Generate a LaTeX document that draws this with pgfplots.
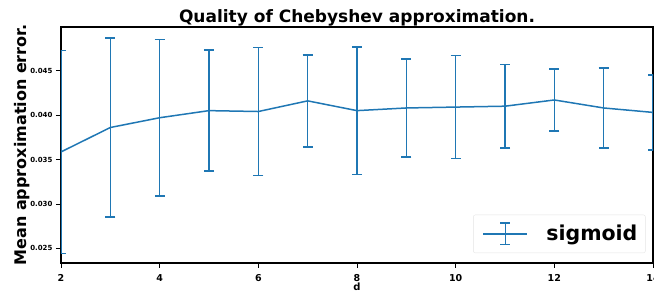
\documentclass[border=0pt]{standalone}
\usepackage{fontspec}
\setmainfont{DejaVu Sans}
\usepackage{pgfplots}
\pgfplotsset{compat=1.18}
\usetikzlibrary{calc}
\definecolor{tabblue}{HTML}{1F77B4}
\pgfplotstableread{
x y err
2 0.03585 0.01143
3 0.0386 0.0101
4 0.0397 0.0088
5 0.0405 0.0068
6 0.0404 0.0072
7 0.0416 0.0052
8 0.0405 0.0072
9 0.0408 0.0055
10 0.0409 0.0058
11 0.0410 0.0047
12 0.0417 0.0035
13 0.0408 0.0045
14 0.0403 0.0042
}\datatable
\begin{document}
\begin{tikzpicture}
\begin{axis}[
 scale only axis, width=592pt, height=236pt,
 xmin=2, xmax=14, ymin=0.02334, ymax=0.04992,
 axis line style={line width=2.6pt},
 xtick={2,4,...,14}, ytick={0.025,0.030,0.035,0.040,0.045},
 tick pos=left, tick align=outside,
 tick style={black, line width=0.7pt}, major tick length=5pt,
 scaled y ticks=false,
 /pgf/number format/assume math mode=true,
 xticklabel style={font=\bfseries\fontsize{9.5}{10}\selectfont, yshift=-3pt},
 yticklabel style={font=\bfseries\fontsize{7}{8}\selectfont,
   /pgf/number format/.cd, fixed, fixed zerofill, precision=3},
 title={Quality of Chebyshev approximation.},
 title style={font=\bfseries\fontsize{17}{19}\selectfont, yshift=-9pt},
 xlabel={d}, xlabel style={font=\bfseries\fontsize{10}{10}\selectfont, yshift=6pt},
 ylabel={Mean approximation error.},
 ylabel style={font=\bfseries\fontsize{16}{18}\selectfont, yshift=-6pt},
 legend style={at={(0.9875,0.042)}, anchor=south east, draw=black!10, rounded corners=2pt,
   font=\bfseries\fontsize{20.5}{23}\selectfont, inner xsep=6pt, inner ysep=3pt},
 legend cell align=left,
]
\coordinate (ll) at (rel axis cs:0,0);
\addplot[tabblue, line width=1.5pt, mark=none,
  legend image code/.code={
    \path[draw=none, fill=none] (-4pt,-16pt) rectangle (61pt,16pt);
    \draw[tabblue, line width=1.5pt] (0pt,0pt) -- (44pt,0pt);
    \draw[tabblue, line width=1.5pt] (22pt,-10.7pt) -- (22pt,10.7pt);
    \draw[tabblue, line width=1.8pt] (17pt,-10.7pt) -- (27pt,-10.7pt);
    \draw[tabblue, line width=1.8pt] (17pt,10.7pt) -- (27pt,10.7pt);
  },
  error bars/.cd, y dir=both, y explicit,
  error bar style={line width=1.5pt, tabblue},
  error mark options={rotate=90, mark size=5pt, line width=1.8pt, tabblue}]
  table[x=x, y=y, y error=err] {\datatable};
\addlegendentry{sigmoid}
\end{axis}
\pgfresetboundingbox
\path[use as bounding box] ($(ll)+(-61pt,-33pt)$) rectangle ++(654pt,296pt);
\end{tikzpicture}
\end{document}
